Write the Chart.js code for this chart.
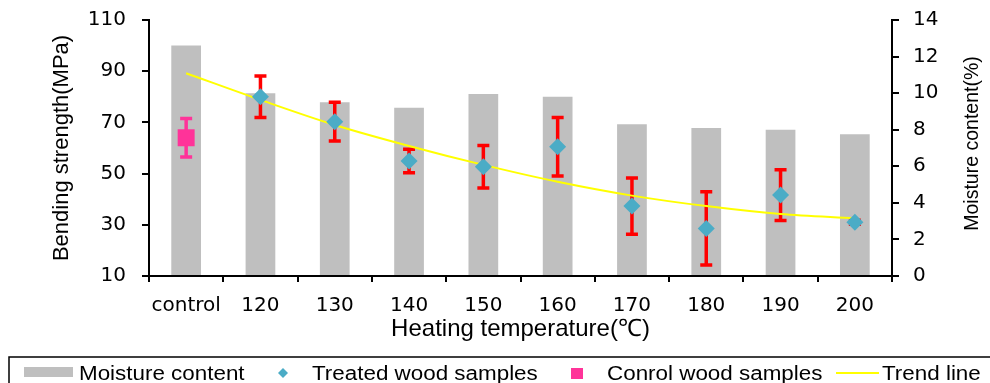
<!DOCTYPE html>
<html>
<head>
<meta charset="utf-8">
<script src="https://cdn.jsdelivr.net/npm/chart.js@4.4.0/dist/chart.umd.min.js"></script>
<style>
    body { margin: 0; background: #fff; }
    #bendingChart { display: block; }
</style>
</head>
<body>
<canvas id="bendingChart" width="990" height="383"></canvas>
<script>
// Categories on the x axis
const temperatures = ["control", "120", "130", "140", "150", "160", "170", "180", "190", "200"];

// Moisture content (%), right axis
const moistureContent = [12.6, 10.0, 9.5, 9.2, 9.95, 9.8, 8.3, 8.1, 8.0, 7.75];

// Bending strength (MPa), left axis
const treatedStrength = [null, 80.0, 70.3, 54.9, 52.7, 60.5, 37.3, 28.6, 41.6, 31.0];
const treatedError = [null, 8.1, 7.6, 4.6, 8.3, 11.4, 11.0, 14.3, 9.9, 0.8];
const controlStrength = [64.0, null, null, null, null, null, null, null, null, null];
const controlError = [7.5, null, null, null, null, null, null, null, null, null];

// Trend line
const trendLine = [89.2, 78.8, 69.0, 60.8, 53.4, 46.8, 41.4, 37.3, 34.2, 32.5];

// Legend entries
const legendLabels = ["Moisture content", "Treated wood samples", "Conrol wood samples", "Trend line"];

Chart.defaults.color = "#000";

// Draws the error bars right after the grey bars, so the markers sit on top
const errorBarPlugin = {
    id: "errorBars",
    afterDatasetDraw(chart, args) {
        if (args.index !== 0) return;
        const ctx = chart.ctx;
        const x = chart.scales.x;
        const y = chart.scales.y;
        drawErrors(ctx, x, y, treatedStrength, treatedError, "#FF0000");
        drawErrors(ctx, x, y, controlStrength, controlError, "#FF3399");
    }
};

function drawErrors(ctx, x, y, values, errors, color) {
    ctx.save();
    ctx.strokeStyle = color;
    ctx.lineWidth = 3.5;
    values.forEach((v, i) => {
        if (v === null || !errors[i]) return;
        const px = x.getPixelForValue(i);
        const top = y.getPixelForValue(v + errors[i]);
        const bottom = y.getPixelForValue(v - errors[i]);
        ctx.beginPath();
        ctx.moveTo(px, top);
        ctx.lineTo(px, bottom);
        ctx.moveTo(px - 6, top);
        ctx.lineTo(px + 6, top);
        ctx.moveTo(px - 6, bottom);
        ctx.lineTo(px + 6, bottom);
        ctx.stroke();
    });
    ctx.restore();
}

// Stretched text, the original labels are a bit wider than Arial
function wideText(ctx, text, x, y, stretch) {
    ctx.save();
    ctx.translate(x, y);
    ctx.scale(stretch, 1);
    ctx.fillText(text, 0, 0);
    ctx.restore();
}

// Fixed axis sizes so the plot area lands where the original one is
function fixWidth(w) {
    return (scale) => {
        scale.width = w;
        scale.paddingTop = 0;
        scale.paddingBottom = 0;
    };
}

// Right axis title (reads bottom to top) and the boxed legend at the bottom
const extrasPlugin = {
    id: "extras",
    afterDraw(chart) {
        const ctx = chart.ctx;
        ctx.save();
        ctx.fillStyle = "#000";
        ctx.font = "19.5px 'Liberation Sans'";
        ctx.textAlign = "center";
        ctx.textBaseline = "alphabetic";
        ctx.translate(978, 143.5);
        ctx.rotate(-Math.PI / 2);
        ctx.fillText("Moisture content(%)", 0, 0);
        ctx.restore();

        ctx.save();
        ctx.strokeStyle = "#000";
        ctx.lineWidth = 1.5;
        ctx.strokeRect(9, 357, 1000, 40);

        ctx.fillStyle = "#BFBFBF";
        ctx.fillRect(24, 367, 49, 10);

        ctx.fillStyle = "#4BACC6";
        ctx.beginPath();
        ctx.moveTo(283, 368);
        ctx.lineTo(288, 373);
        ctx.lineTo(283, 378);
        ctx.lineTo(278, 373);
        ctx.closePath();
        ctx.fill();

        ctx.fillStyle = "#FF3399";
        ctx.fillRect(571, 368, 12, 11);

        ctx.strokeStyle = "#FFFF00";
        ctx.lineWidth = 2;
        ctx.beginPath();
        ctx.moveTo(836, 373);
        ctx.lineTo(879, 373);
        ctx.stroke();

        ctx.fillStyle = "#000";
        ctx.font = "20px 'Liberation Sans'";
        ctx.textBaseline = "alphabetic";
        wideText(ctx, legendLabels[0], 79, 380, 1.12);
        wideText(ctx, legendLabels[1], 312, 380, 1.12);
        wideText(ctx, legendLabels[2], 607, 380, 1.12);
        wideText(ctx, legendLabels[3], 882, 380, 1.12);
        ctx.restore();
    }
};

const ctx = document.getElementById("bendingChart").getContext("2d");
const bendingChart = new Chart(ctx, {
    type: "bar",
    data: {
        labels: temperatures,
        datasets: [
            {
                label: legendLabels[0],
                data: moistureContent,
                yAxisID: "y1",
                backgroundColor: "#BFBFBF",
                barPercentage: 0.4,
                categoryPercentage: 1,
                order: 3
            },
            {
                type: "line",
                label: legendLabels[3],
                data: trendLine,
                yAxisID: "y",
                borderColor: "#FFFF00",
                borderWidth: 2,
                pointRadius: 0,
                cubicInterpolationMode: "monotone",
                fill: false,
                order: 2
            },
            {
                type: "line",
                label: legendLabels[1],
                data: treatedStrength,
                yAxisID: "y",
                showLine: false,
                pointStyle: "rectRot",
                pointRadius: 8.5,
                pointBorderWidth: 0,
                backgroundColor: "#4BACC6",
                order: 1
            },
            {
                type: "line",
                label: legendLabels[2],
                data: controlStrength,
                yAxisID: "y",
                showLine: false,
                pointStyle: "rect",
                pointRadius: 12,
                pointBorderWidth: 0,
                backgroundColor: "#FF3399",
                order: 1
            }
        ]
    },
    options: {
        responsive: false,
        animation: false,
        devicePixelRatio: 1,
        layout: {
            padding: { top: 20, bottom: 33 }
        },
        plugins: {
            legend: { display: false },
            tooltip: { enabled: false }
        },
        scales: {
            x: {
                afterFit: (scale) => {
                    scale.height = 74;
                    scale.paddingLeft = 0;
                    scale.paddingRight = 0;
                },
                grid: {
                    offset: true,
                    drawOnChartArea: false,
                    color: "#000",
                    lineWidth: 2,
                    tickLength: 6
                },
                border: { color: "#000", width: 2 },
                ticks: {
                    font: { family: "DejaVu Sans", size: 20 },
                    padding: 12,
                    maxRotation: 0
                },
                title: {
                    display: true,
                    text: "Heating temperature(℃)",
                    font: { family: "Liberation Sans", size: 24 },
                    padding: { top: 0, bottom: 6 }
                }
            },
            y: {
                position: "left",
                min: 10,
                max: 110,
                afterFit: fixWidth(149),
                grid: {
                    drawOnChartArea: false,
                    color: "#000",
                    lineWidth: 2,
                    tickLength: 7
                },
                border: { color: "#000", width: 2 },
                ticks: {
                    stepSize: 20,
                    font: { family: "DejaVu Sans", size: 20 },
                    padding: 16
                },
                title: {
                    display: true,
                    text: "Bending strength(MPa)",
                    font: { family: "Liberation Sans", size: 22 },
                    padding: { top: 49, bottom: 0 }
                }
            },
            y1: {
                position: "right",
                min: 0,
                max: 14,
                afterFit: fixWidth(98),
                grid: {
                    drawOnChartArea: false,
                    color: "#000",
                    lineWidth: 2,
                    tickLength: 7
                },
                border: { color: "#000", width: 2 },
                ticks: {
                    stepSize: 2,
                    font: { family: "DejaVu Sans", size: 20 },
                    padding: 14
                }
            }
        }
    },
    plugins: [errorBarPlugin, extrasPlugin]
});
</script>
</body>
</html>
